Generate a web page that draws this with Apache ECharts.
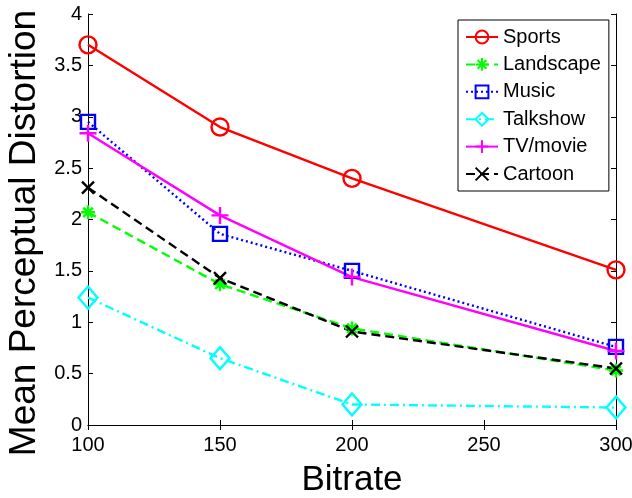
<!DOCTYPE html>
<html>
<head>
<meta charset="utf-8">
<script src="https://cdn.jsdelivr.net/npm/echarts@6/dist/echarts.min.js"></script>
<style>
  html, body { margin: 0; padding: 0; background: #fff; }
  #chart { width: 632px; height: 498px; }
</style>
</head>
<body>
<div id="chart"></div>
<script>
// bitrate values on x
var bitrates = [100, 150, 200, 300];

var sports    = [3.70, 2.90, 2.40, 1.51];
var landscape = [2.07, 1.37, 0.94, 0.53];
var music     = [2.95, 1.86, 1.50, 0.76];
var talkshow  = [1.24, 0.65, 0.20, 0.17];
var tvmovie   = [2.84, 2.04, 1.44, 0.72];
var cartoon   = [2.31, 1.43, 0.91, 0.55];

var chart = echarts.init(document.getElementById('chart'));

function pairs(vals) {
    return bitrates.map(function (b, i) { return [b, vals[i]]; });
}

function mk(name, vals, color, lineType, symbol, size) {
    return {
        name: name,
        type: 'line',
        data: pairs(vals),
        symbol: symbol,
        symbolSize: size,
        lineStyle: { color: color, width: 2.4, type: lineType },
        itemStyle: { color: 'none', borderColor: color, borderWidth: 2.4 },
        emphasis: { disabled: true },
        animation: false
    };
}

var font = 'Liberation Sans, Arial, sans-serif';

var option = {
    backgroundColor: '#fff',
    grid: { left: 88, right: 16, top: 14, bottom: 73, outerBoundsMode: 'none', containLabel: false },
    legend: {
        orient: 'vertical',
        left: 458,
        top: 20,
        padding: [7, 8, 7, 7],
        itemWidth: 32,
        itemHeight: 16,
        itemGap: 7.4,
        itemTextGap: 4,
        borderColor: '#000',
        borderWidth: 1,
        backgroundColor: '#fff',
        textStyle: { fontSize: 20, color: '#000', fontFamily: font, lineHeight: 20 },
        data: ['Sports', 'Landscape', 'Music', 'Talkshow', 'TV/movie', 'Cartoon']
    },
    xAxis: [{
        type: 'value',
        min: 100, max: 300, interval: 50,
        name: 'Bitrate',
        nameLocation: 'middle',
        nameGap: 38,
        nameTextStyle: { fontSize: 35, color: '#000', fontFamily: font },
        axisLine: { lineStyle: { color: '#000', width: 1 } },
        axisTick: { inside: true, length: 5, lineStyle: { color: '#000' } },
        axisLabel: { fontSize: 20, color: '#000', fontFamily: font, margin: 10 },
        splitLine: { show: false }
    }, {
        type: 'value',
        position: 'top',
        min: 100, max: 300, interval: 50,
        axisLine: { show: true, lineStyle: { color: '#000', width: 1 } },
        axisTick: { inside: true, length: 5, lineStyle: { color: '#000' } },
        axisLabel: { show: false },
        splitLine: { show: false }
    }],
    yAxis: [{
        type: 'value',
        min: 0, max: 4, interval: 0.5,
        name: 'Mean Perceptual Distortion',
        nameLocation: 'middle',
        nameGap: 40,
        nameTextStyle: { fontSize: 37, color: '#000', fontFamily: font, padding: [0, 27, 0, 0] },
        axisLine: { show: true, lineStyle: { color: '#000', width: 1 } },
        axisTick: { show: true, inside: true, length: 5, lineStyle: { color: '#000' } },
        axisLabel: { fontSize: 20, color: '#000', fontFamily: font, margin: 6 },
        splitLine: { show: false }
    }, {
        type: 'value',
        position: 'right',
        min: 0, max: 4, interval: 0.5,
        axisLine: { show: true, lineStyle: { color: '#000', width: 1 } },
        axisTick: { show: true, inside: true, length: 5, lineStyle: { color: '#000' } },
        axisLabel: { show: false },
        splitLine: { show: false }
    }],
    series: [
        mk('Sports', sports, '#ff0000', 'solid', 'circle', 17),
        mk('Landscape', landscape, '#00ff00', [9, 5], 'path://M5,0 L5,10 M0,5 L10,5 M1.6,1.6 L8.4,8.4 M8.4,1.6 L1.6,8.4', 14),
        mk('Music', music, '#0000ff', [2, 3], 'rect', 14),
        mk('Talkshow', talkshow, '#00ffff', [9, 4, 2, 4], 'diamond', [19, 22]),
        mk('TV/movie', tvmovie, '#ff00ff', 'solid', 'path://M5,0 L5,10 M0,5 L10,5', 17),
        mk('Cartoon', cartoon, '#000000', [9, 5], 'path://M0,0 L10,10 M10,0 L0,10', 12)
    ]
};

chart.setOption(option);
</script>
</body>
</html>
